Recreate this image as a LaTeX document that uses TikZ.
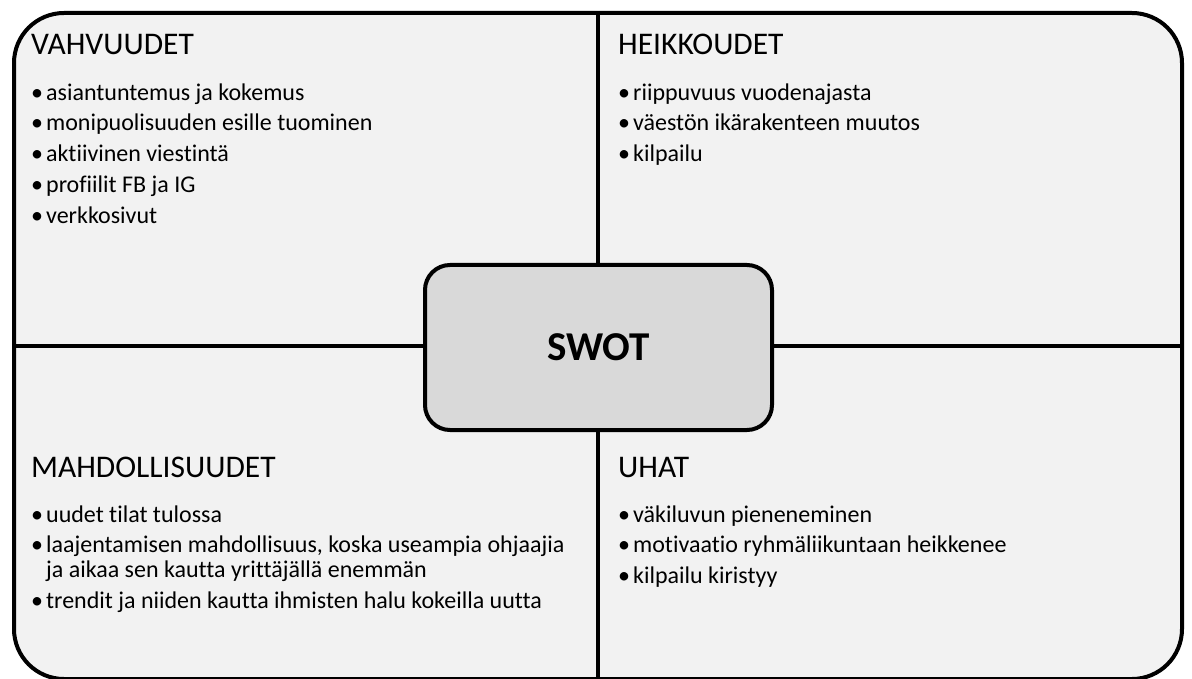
\documentclass[tikz,border=0pt]{standalone}
\usepackage{fontspec}
\setmainfont{Carlito}[Ligatures=NoCommon]
\usetikzlibrary{positioning}
\definecolor{panelgray}{HTML}{F2F2F2}
\definecolor{swotgray}{HTML}{D9D9D9}
\newcommand{\bul}{•\hspace{3pt}}

\begin{document}
\begin{tikzpicture}[
    x=1pt, y=-1pt,
    frame/.style={draw, line width=4pt, rounded corners=50pt, fill=panelgray, minimum width=1168pt, minimum height=666pt, inner sep=0pt},
    divider/.style={line width=3.5pt},
    core/.style={draw, line width=4pt, rounded corners=25pt, fill=swotgray, minimum width=347pt, minimum height=165pt, font=\fontsize{41}{45}\selectfont\bfseries},
    heading/.style={anchor=base west, inner sep=0pt, font=\fontsize{31.5}{36}\selectfont},
    items/.style={inner sep=0pt, align=left, font=\fontsize{24}{25}\selectfont}
  ]
    \useasboundingbox (0,0) rectangle (1192,679);

    % Frame and dividers
    \node[frame] (board) at (598,346) {};
    \draw[divider] (board.north) -- (board.south);
    \draw[divider] (board.west) -- (board.east);

    % Centre
    \node[core] (swot) at (598.5,347.5) {SWOT};

    % Headings
    \node[heading] (vahv) at (31,55) {VAHVUUDET};
    \node[heading] (heik) at (618,55) {HEIKKOUDET};
    \node[heading] (mahd) at (31,477) {MAHDOLLISUUDET};
    \node[heading] (uhat) at (618,477) {UHAT};

    % Items
    \node[items, below=28pt of vahv.south west, anchor=north west] (vahvlist) {\bul asiantuntemus ja kokemus\\[5.7pt]\bul monipuolisuuden esille tuominen\\[5.7pt]\bul aktiivinen viestintä\\[5.7pt]\bul profiilit FB ja IG\\[5.7pt]\bul verkkosivut};
    \node[items, below=28pt of heik.south west, anchor=north west] (heiklist) {\bul riippuvuus vuodenajasta\\[5.7pt]\bul väestön ikärakenteen muutos\\[5.7pt]\bul kilpailu};
    \node[items, below=28pt of mahd.south west, anchor=north west] (mahdlist) {\bul uudet tilat tulossa\\[5.7pt]\bul laajentamisen mahdollisuus, koska useampia ohjaajia\\\phantom{\bul}ja aikaa sen kautta yrittäjällä enemmän\\[5.7pt]\bul trendit ja niiden kautta ihmisten halu kokeilla uutta};
    \node[items, below=28pt of uhat.south west, anchor=north west] (uhatlist) {\bul väkiluvun pieneneminen\\[5.7pt]\bul motivaatio ryhmäliikuntaan heikkenee\\[5.7pt]\bul kilpailu kiristyy};
  \end{tikzpicture}
\end{document}
